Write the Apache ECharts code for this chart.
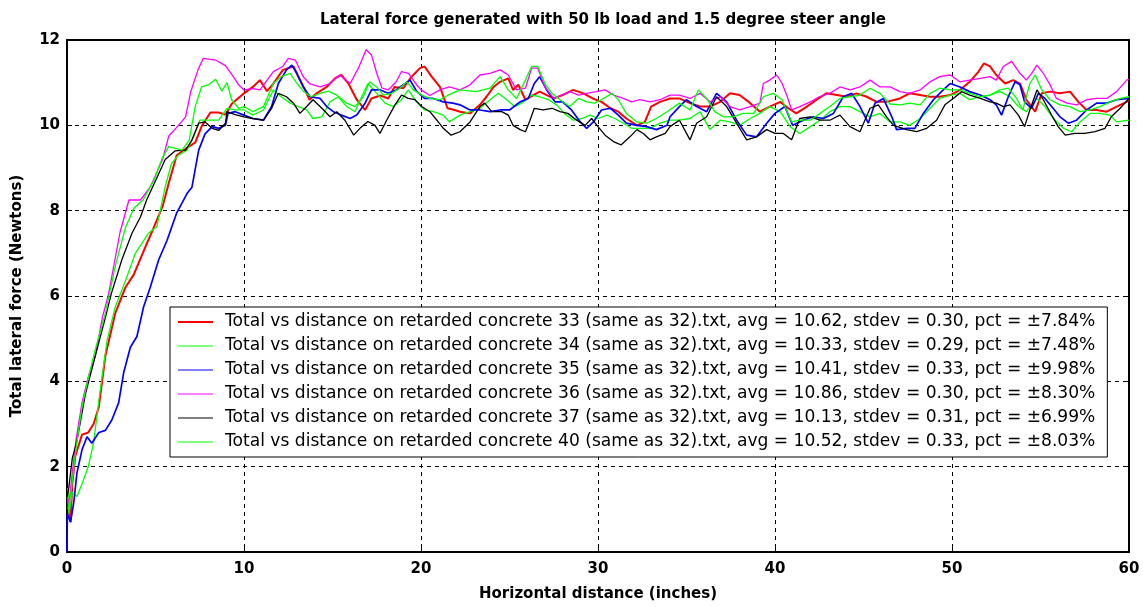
<!DOCTYPE html>
<html>
<head>
<meta charset="utf-8">
<title>Lateral force</title>
<script src="https://cdn.jsdelivr.net/npm/echarts@6/dist/echarts.min.js"></script>
<style>
  html, body { margin: 0; padding: 0; background: #fff; }
  #chart { width: 1143px; height: 607px; }
</style>
</head>
<body>
<div id="chart"></div>
<script>
// Lateral force (N) against horizontal distance (in), one [distance, force] list per run.
const run33 = [[0.05,1.2],[0.2,0.7],[0.3,1.6],[0.47,2.25],[0.85,2.75],[1.2,2.8],[1.5,3.0],[1.8,3.4],[2.17,4.6],[2.73,5.6],[3.3,6.2],[3.77,6.5],[4.43,7.15],[4.9,7.6],[5.4,8.1],[5.75,8.65],[6.2,9.3],[6.7,9.45],[7.25,9.6],[7.6,9.97],[8.1,10.3],[8.57,10.3],[8.95,10.25],[9.3,10.5],[10.0,10.75],
  [10.5,10.9],[10.9,11.06],[11.3,10.8],[11.66,10.98],[12.2,11.3],[12.8,11.38],[13.07,11.14],[13.45,10.83],[13.7,10.6],[14.1,10.75],[14.67,10.9],[15.14,11.1],[15.5,11.18],[15.9,10.98],[16.37,10.6],[16.84,10.36],[17.2,10.63],[17.7,10.7],[18.15,10.63],[18.5,10.9],[19.0,10.87],[19.47,11.14],[19.94,11.34],[20.2,11.38],[20.6,11.14],[21.07,10.9],[21.5,10.4],[21.9,10.36],
  [22.2,10.32],[22.77,10.28],[23.33,10.48],[23.7,10.67],[24.1,10.9],[24.47,11.02],[24.93,11.1],[25.2,10.83],[25.5,10.95],[25.9,10.6],[26.35,10.71],[26.7,10.79],[27.1,10.71],[27.5,10.63],[28.0,10.71],[28.6,10.83],[29.17,10.75],[29.7,10.63],[30.2,10.55],[30.7,10.4],[31.15,10.32],[31.6,10.16],[32.2,10.0],[32.65,10.08],[33.0,10.44],[33.5,10.55],
  [34.07,10.63],[34.6,10.63],[35.2,10.52],[35.76,10.44],[36.33,10.44],[36.9,10.55],[37.46,10.75],[38.0,10.71],[38.6,10.52],[39.15,10.32],[39.7,10.44],[40.3,10.55],[40.75,10.4],[41.2,10.28],[41.8,10.44],[42.35,10.6],[42.9,10.75],[43.5,10.71],[44.05,10.67],[44.6,10.75],[45.18,10.67],[45.74,10.55],[46.3,10.55],
  [47.06,10.63],[47.6,10.75],[48.2,10.71],[48.76,10.67],[49.3,10.67],[49.9,10.71],[50.45,10.83],[51.0,11.02],[51.5,11.26],[51.8,11.45],[52.15,11.38],[52.5,11.18],[53.0,10.98],[53.46,11.06],[53.84,10.98],[54.2,10.6],[54.7,10.32],[55.07,10.75],[55.54,10.79],[56.1,10.75],[56.67,10.79],[57.14,10.55],[57.6,10.36],[58.17,10.36],[58.74,10.32],[59.3,10.44],[59.87,10.55],[60,10.6]];

const run34 = [[0.05,1.5],[0.1,0.9],[0.3,1.4],[0.56,1.3],[0.85,1.6],[1.2,2.0],[1.5,2.55],[1.8,3.55],[2.26,4.95],[2.73,5.75],[3.3,6.35],[3.86,7.0],[4.6,7.47],[5.08,7.63],[5.55,8.56],[5.9,9.1],[6.3,9.3],[6.78,9.42],[7.15,9.73],[7.5,10.12],[8.0,10.12],[8.57,10.12],[9.04,10.4],[9.5,10.36],[10.0,10.36],
  [10.5,10.24],[11.1,10.36],[11.66,10.83],[12.1,10.67],[12.6,10.52],[13.07,10.44],[13.54,10.36],[13.9,10.16],[14.4,10.2],[14.86,10.55],[15.33,10.67],[15.8,10.44],[16.27,10.32],[16.65,10.67],[17.0,10.98],[17.5,10.75],[17.97,10.52],[18.44,10.44],[18.9,10.6],[19.28,10.83],[19.75,10.55],[20.2,10.36],[20.7,10.32],[21.26,10.24],[21.6,10.08],
  [22.2,10.24],[22.77,10.32],[23.33,10.4],[23.9,10.6],[24.37,10.75],[24.84,10.6],[25.3,10.44],[25.8,10.55],[26.25,10.71],[26.7,10.67],[27.2,10.6],[27.66,10.48],[28.1,10.28],[28.6,10.12],[29.1,10.16],[29.55,10.24],[30.0,10.16],[30.5,10.24],[30.96,10.16],[31.43,10.05],[31.9,9.93],[32.37,9.93],[32.94,9.93],[33.5,10.05],
  [34.07,10.12],[34.6,10.12],[35.2,10.16],[35.76,10.32],[36.33,9.9],[36.9,10.12],[37.46,10.08],[38.0,10.0],[38.6,10.16],[39.15,10.28],[39.7,10.44],[40.3,10.32],[40.85,9.97],[41.4,9.81],[42.0,9.97],[42.54,10.12],[43.1,10.32],[43.67,10.44],[44.24,10.44],[44.8,10.32],[45.37,10.2],[45.93,10.28],[46.5,10.08],
  [47.06,10.08],[47.6,10.0],[48.2,10.16],[48.76,10.4],[49.3,10.63],[49.9,10.71],[50.45,10.75],[51.0,10.6],[51.6,10.67],[52.15,10.71],[52.7,10.79],[53.28,10.67],[53.75,10.44],[54.2,10.32],[54.8,10.63],[55.25,10.44],[55.73,10.16],[56.3,9.93],[56.76,9.85],[57.23,10.08],[57.8,10.28],[58.36,10.28],[58.93,10.24],[59.3,10.08],[60,10.12]];

const run35 = [[0,0],[0.02,0.9],[0.2,0.7],[0.38,1.15],[0.56,1.85],[0.85,2.4],[1.13,2.7],[1.4,2.55],[1.8,2.8],[2.17,2.85],[2.54,3.1],[2.92,3.5],[3.2,4.2],[3.58,4.8],[3.95,5.05],[4.33,5.75],[4.7,6.2],[5.18,6.85],[5.65,7.3],[6.2,7.95],[6.78,8.4],[7.06,8.55],[7.44,9.42],[7.8,9.8],[8.2,9.97],[8.57,9.93],[8.95,10.0],[9.1,10.28],[9.5,10.32],[10.0,10.24],
  [10.5,10.16],[11.1,10.12],[11.56,10.44],[11.94,10.98],[12.4,11.3],[12.7,11.41],[12.98,11.22],[13.35,10.9],[13.73,10.67],[14.3,10.63],[14.67,10.44],[15.05,10.32],[15.5,10.24],[15.99,10.16],[16.37,10.24],[16.84,10.52],[17.2,10.83],[17.7,10.83],[18.15,10.75],[18.6,10.83],[19.0,10.95],[19.38,11.06],[19.75,10.8],[20.2,10.63],[20.7,10.63],[21.26,10.55],[21.8,10.52],
  [22.2,10.48],[22.77,10.36],[23.33,10.36],[23.9,10.32],[24.47,10.36],[25.0,10.36],[25.6,10.55],[26.06,10.63],[26.4,10.98],[26.7,11.14],[27.1,10.83],[27.57,10.55],[28.0,10.55],[28.5,10.36],[29.0,10.08],[29.36,9.93],[29.74,10.08],[30.2,10.36],[30.7,10.4],[31.15,10.24],[31.6,10.05],[32.2,10.0],[32.75,9.97],[33.3,9.9],[33.9,10.0],
  [34.07,10.2],[34.6,10.44],[35.0,10.6],[35.57,10.44],[36.14,10.32],[36.7,10.75],[37.27,10.55],[37.83,10.12],[38.4,9.77],[38.96,9.73],[39.53,10.05],[40.0,10.28],[40.56,10.44],[41.0,10.0],[41.6,10.12],[42.17,10.2],[42.73,10.16],[43.3,10.28],[43.86,10.67],[44.33,10.75],[44.8,10.44],[45.27,10.05],[45.65,10.52],[46.12,10.63],[46.6,10.2],
  [46.87,9.9],[47.44,9.93],[47.9,9.93],[48.38,10.28],[48.95,10.6],[49.5,10.83],[49.9,10.98],[50.45,10.9],[51.0,10.79],[51.6,10.71],[52.15,10.6],[52.5,10.48],[52.8,10.24],[53.18,10.67],[53.56,11.02],[53.84,10.95],[54.1,10.55],[54.5,10.4],[54.88,10.75],[55.25,10.63],[55.63,10.44],[56.1,10.2],[56.57,10.05],[57.04,10.12],[57.6,10.36],[58.17,10.52],[58.74,10.52],[59.3,10.6],[60,10.63]];

const run36 = [[0.02,1.3],[0.1,1.1],[0.5,2.6],[0.85,3.5],[1.2,4.1],[1.6,4.6],[2.0,5.5],[2.35,6.05],[3.0,7.5],[3.5,8.25],[4.15,8.25],[4.7,8.55],[5.4,9.2],[5.75,9.75],[6.3,10.0],[6.7,10.2],[7.0,10.8],[7.4,11.3],[7.7,11.57],[8.4,11.53],[8.95,11.4],[9.3,11.2],[9.7,10.95],[10.0,10.83],
  [10.5,10.86],[10.9,10.83],[11.66,11.26],[12.2,11.38],[12.5,11.57],[12.9,11.53],[13.35,11.14],[13.7,10.98],[14.3,10.9],[14.86,10.98],[15.4,11.18],[16.0,10.98],[16.46,11.34],[16.9,11.77],[17.2,11.65],[17.5,11.22],[17.8,10.87],[18.15,10.83],[18.6,11.02],[18.9,11.26],[19.3,11.22],[19.7,10.98],[20.0,10.83],[20.5,10.7],[21.07,10.83],[21.6,10.9],
  [22.2,10.83],[22.77,10.95],[23.33,11.18],[23.9,11.22],[24.47,11.3],[24.93,11.18],[25.4,10.83],[25.9,10.87],[26.25,11.34],[26.6,11.34],[27.0,10.9],[27.5,10.63],[27.95,10.71],[28.4,10.79],[28.9,10.71],[29.36,10.75],[29.9,10.79],[30.4,10.83],[30.87,10.71],[31.43,10.63],[31.9,10.55],[32.37,10.6],[32.94,10.55],[33.5,10.6],
  [34.07,10.71],[34.6,10.71],[35.2,10.63],[35.76,10.75],[36.33,10.55],[36.9,10.67],[37.46,10.44],[38.0,10.36],[38.6,10.44],[39.15,10.52],[39.34,10.98],[39.7,11.06],[40.1,11.18],[40.4,10.98],[40.66,10.71],[40.94,10.36],[41.4,10.44],[42.0,10.55],[42.5,10.67],[43.1,10.75],[43.67,10.9],[44.24,10.83],[44.8,10.9],[45.37,11.06],[45.93,10.9],[46.5,10.9],
  [47.06,10.79],[47.6,10.75],[48.2,10.83],[48.76,11.02],[49.3,11.14],[49.9,11.18],[50.45,11.02],[51.0,11.06],[51.6,11.1],[52.15,11.14],[52.5,11.06],[52.9,11.38],[53.37,11.5],[53.84,11.22],[54.2,11.06],[54.5,11.22],[54.8,11.41],[55.16,11.22],[55.54,10.95],[55.9,10.63],[56.5,10.52],[57.04,10.48],[57.6,10.6],[58.17,10.63],[58.74,10.63],[59.3,10.79],[59.87,11.06],[60,11.08]];

const run37 = [[0.02,1.3],[0.1,1.5],[0.3,2.2],[0.56,2.6],[1.04,3.7],[1.6,4.6],[2.17,5.5],[2.5,6.05],[3.1,6.85],[3.67,7.47],[4.15,7.85],[4.5,8.25],[5.0,8.7],[5.55,9.2],[6.1,9.4],[6.7,9.42],[7.05,9.65],[7.44,10.05],[7.8,10.08],[8.2,9.93],[8.57,9.88],[8.95,10.05],[9.04,10.32],[9.5,10.25],[10.0,10.2],
  [10.5,10.16],[11.1,10.12],[11.56,10.4],[11.94,10.75],[12.4,10.67],[12.8,10.52],[13.16,10.28],[13.54,10.44],[13.9,10.6],[14.4,10.4],[14.86,10.2],[15.24,10.32],[15.7,10.12],[16.2,9.77],[16.55,9.93],[17.0,10.09],[17.4,10.0],[17.68,9.81],[18.06,10.12],[18.53,10.48],[18.9,10.71],[19.28,10.63],[19.66,10.6],[20.04,10.44],[20.5,10.32],[20.9,10.12],[21.26,9.93],[21.7,9.77],
  [22.2,9.85],[22.77,10.08],[23.33,10.44],[23.6,10.52],[24.0,10.32],[24.56,10.32],[24.93,10.24],[25.2,10.0],[25.6,9.9],[25.9,9.85],[26.16,10.12],[26.4,10.4],[26.9,10.36],[27.4,10.4],[27.85,10.32],[28.3,10.28],[28.8,10.12],[29.27,10.0],[29.64,10.16],[30.0,9.97],[30.4,9.77],[30.87,9.62],[31.3,9.54],[31.8,9.73],[32.2,9.9],[32.56,9.81],[32.94,9.66],[33.3,9.73],[33.8,9.81],
  [34.07,9.97],[34.6,10.12],[35.2,9.66],[35.57,10.05],[36.14,10.2],[36.7,10.67],[37.27,10.44],[37.83,10.05],[38.4,9.66],[38.96,9.73],[39.53,9.9],[40.0,9.81],[40.47,9.81],[40.94,9.66],[41.4,10.16],[42.0,10.2],[42.54,10.12],[43.1,10.12],[43.67,10.24],[44.24,9.97],[44.8,9.85],[45.37,10.4],[45.84,10.48],[46.3,10.2],[46.7,10.0],
  [47.44,9.9],[48.0,9.85],[48.57,9.93],[49.13,10.12],[49.6,10.48],[50.07,10.63],[50.55,10.79],[51.0,10.71],[51.6,10.63],[52.15,10.55],[52.5,10.52],[52.9,10.44],[53.28,10.48],[53.75,10.24],[54.1,9.97],[54.4,10.36],[54.8,10.83],[55.16,10.6],[55.63,10.24],[56.0,9.97],[56.4,9.77],[56.95,9.81],[57.5,9.81],[58.08,9.85],[58.64,9.93],[59.0,10.2],[59.5,10.4],[60,10.63]];

const run40 = [[0.05,1.0],[0.2,1.3],[0.5,2.4],[0.85,3.4],[1.13,3.95],[1.6,4.75],[2.17,5.6],[2.73,6.7],[3.3,7.6],[3.77,8.05],[4.3,8.25],[4.9,8.7],[5.4,9.25],[5.75,9.5],[6.5,9.42],[6.9,9.65],[7.25,10.45],[7.6,10.9],[8.0,10.95],[8.4,11.08],[8.75,10.8],[9.04,11.0],[9.3,10.6],[9.7,10.4],[10.0,10.44],
  [10.5,10.32],[11.1,10.44],[11.66,10.98],[12.1,11.14],[12.6,11.22],[13.0,10.98],[13.35,10.8],[13.8,10.67],[14.3,10.75],[14.76,10.8],[15.24,10.71],[15.8,10.52],[16.27,10.44],[16.74,10.67],[17.1,11.02],[17.5,10.9],[17.87,10.71],[18.34,10.75],[18.8,10.87],[19.2,11.02],[19.57,10.83],[20.04,10.71],[20.5,10.63],[21.07,10.6],[21.5,10.7],
  [22.2,10.83],[23.1,10.79],[23.9,10.87],[24.47,11.14],[24.93,10.83],[25.4,10.63],[25.9,11.06],[26.25,11.38],[26.6,11.38],[27.0,10.98],[27.4,10.75],[27.85,10.6],[28.4,10.44],[28.9,10.63],[29.36,10.55],[29.8,10.52],[30.3,10.63],[30.8,10.75],[31.15,10.6],[31.6,10.28],[32.2,10.08],[32.75,10.05],[33.3,10.16],[33.9,10.32],
  [34.6,10.52],[35.2,10.36],[35.67,10.83],[36.14,10.63],[36.6,10.32],[37.08,10.2],[37.65,10.2],[38.2,10.28],[38.8,10.28],[39.34,10.67],[39.9,10.75],[40.4,10.6],[40.94,10.08],[41.4,10.12],[42.0,10.12],[42.54,10.28],[43.1,10.44],[43.67,10.63],[44.24,10.67],[44.8,10.71],[45.37,10.87],[45.93,10.75],[46.5,10.5],
  [47.06,10.48],[47.6,10.52],[48.2,10.48],[48.76,10.75],[49.3,10.87],[49.9,10.83],[50.45,10.83],[51.0,10.75],[51.6,10.67],[52.15,10.71],[52.7,10.83],[53.18,10.87],[53.65,10.63],[54.0,10.36],[54.4,10.98],[54.7,11.18],[55.07,10.83],[55.54,10.6],[56.1,10.48],[56.67,10.44],[57.23,10.32],[57.8,10.36],[58.36,10.44],[58.93,10.55],[59.5,10.63],[60,10.67]];

const runNames = [
  'Total vs distance on retarded concrete 33 (same as 32).txt, avg = 10.62, stdev = 0.30, pct = \u00b17.84%',
  'Total vs distance on retarded concrete 34 (same as 32).txt, avg = 10.33, stdev = 0.29, pct = \u00b17.48%',
  'Total vs distance on retarded concrete 35 (same as 32).txt, avg = 10.41, stdev = 0.33, pct = \u00b19.98%',
  'Total vs distance on retarded concrete 36 (same as 32).txt, avg = 10.86, stdev = 0.30, pct = \u00b18.30%',
  'Total vs distance on retarded concrete 37 (same as 32).txt, avg = 10.13, stdev = 0.31, pct = \u00b16.99%',
  'Total vs distance on retarded concrete 40 (same as 32).txt, avg = 10.52, stdev = 0.33, pct = \u00b18.03%'
];
const runData = [run33, run34, run35, run36, run37, run40];
const runColors = ['#ff0000', '#00ff00', '#0000ff', '#ff00ff', '#000000', '#00ff00'];
const runWidths = [2, 1.3, 1.7, 1.3, 1.3, 1.3];

const xTicks = [0, 10, 20, 30, 40, 50, 60];
const yTicks = [0, 2, 4, 6, 8, 10, 12];

const FONT = '"DejaVu Sans", "Liberation Sans", Arial, sans-serif';

// Legend key: a horizontal stroke of the run's line width inside a 35x14 box
// (zero-length corner segments pin the path's bounding box to the full key size).
function legendKey(w) {
  const y0 = 7 - w / 2, y1 = 7 + w / 2;
  return 'path://M0,0L0.01,0M0,' + y0 + 'L35,' + y0 + 'L35,' + y1 + 'L0,' + y1 + 'ZM35,14L34.99,14';
}

const chart = echarts.init(document.getElementById('chart'), null, { renderer: 'canvas' });

const frameLine = { show: true, onZero: false, lineStyle: { color: '#000', width: 2 } };
const innerTick = { show: true, inside: true, length: 5, lineStyle: { color: '#000', width: 1 } };
const dashGrid = { show: true, lineStyle: { color: '#000', width: 1, type: [4, 4] } };
const tickFont = { color: '#000', fontFamily: FONT, fontSize: 15, fontWeight: 'bold' };
const nameFont = { color: '#000', fontFamily: FONT, fontSize: 15, fontWeight: 'bold' };

chart.setOption({
  animation: false,
  backgroundColor: '#fff',
  title: {
    text: 'Lateral force generated with 50 lb load and 1.5 degree steer angle',
    left: 598, top: 8, textAlign: 'center',
    textStyle: nameFont
  },
  grid: { left: 67, right: 14, top: 40, bottom: 55 },
  legend: {
    data: runNames.map((n, i) => ({ name: n, icon: legendKey(i === 0 ? 2 : 1) })),
    orient: 'vertical',
    left: 170, top: 307,
    padding: [6, 12, 6, 8],
    itemWidth: 35, itemHeight: 14, itemGap: 6,
    selectedMode: false,
    backgroundColor: '#fff',
    borderColor: '#000', borderWidth: 1,
    itemStyle: { borderWidth: 0 },
    textStyle: { color: '#000', fontFamily: FONT, fontSize: 17.1, lineHeight: 18, padding: [0, 0, 0, 7] }
  },
  xAxis: [
    {
      type: 'value', min: 0, max: 60, interval: 10, position: 'bottom',
      name: 'Horizontal distance (inches)', nameLocation: 'middle', nameGap: 35,
      nameTextStyle: nameFont,
      axisLine: frameLine, axisTick: innerTick,
      axisLabel: Object.assign({ margin: 10, formatter: v => xTicks.includes(v) ? String(v) : '' }, tickFont),
      splitLine: dashGrid
    },
    {
      type: 'value', min: 0, max: 60, interval: 10, position: 'top',
      axisLine: frameLine, axisTick: innerTick, axisLabel: { show: false }, splitLine: { show: false }
    }
  ],
  yAxis: [
    {
      type: 'value', min: 0, max: 12, interval: 2, position: 'left',
      name: 'Total lateral force (Newtons)', nameLocation: 'middle', nameGap: 42,
      nameTextStyle: nameFont,
      axisLine: frameLine, axisTick: innerTick,
      axisLabel: Object.assign({ margin: 7, formatter: v => yTicks.includes(v) ? String(v) : '' }, tickFont),
      splitLine: dashGrid
    },
    {
      type: 'value', min: 0, max: 12, interval: 2, position: 'right',
      axisLine: frameLine, axisTick: innerTick, axisLabel: { show: false }, splitLine: { show: false }
    }
  ],
  series: runData.map((d, i) => ({
    name: runNames[i],
    type: 'line',
    data: d,
    xAxisIndex: 0, yAxisIndex: 0,
    showSymbol: false, symbol: 'none',
    color: runColors[i],
    lineStyle: { color: runColors[i], width: runWidths[i] },
    emphasis: { disabled: true },
    z: 2 + i
  }))
});
</script>
</body>
</html>
